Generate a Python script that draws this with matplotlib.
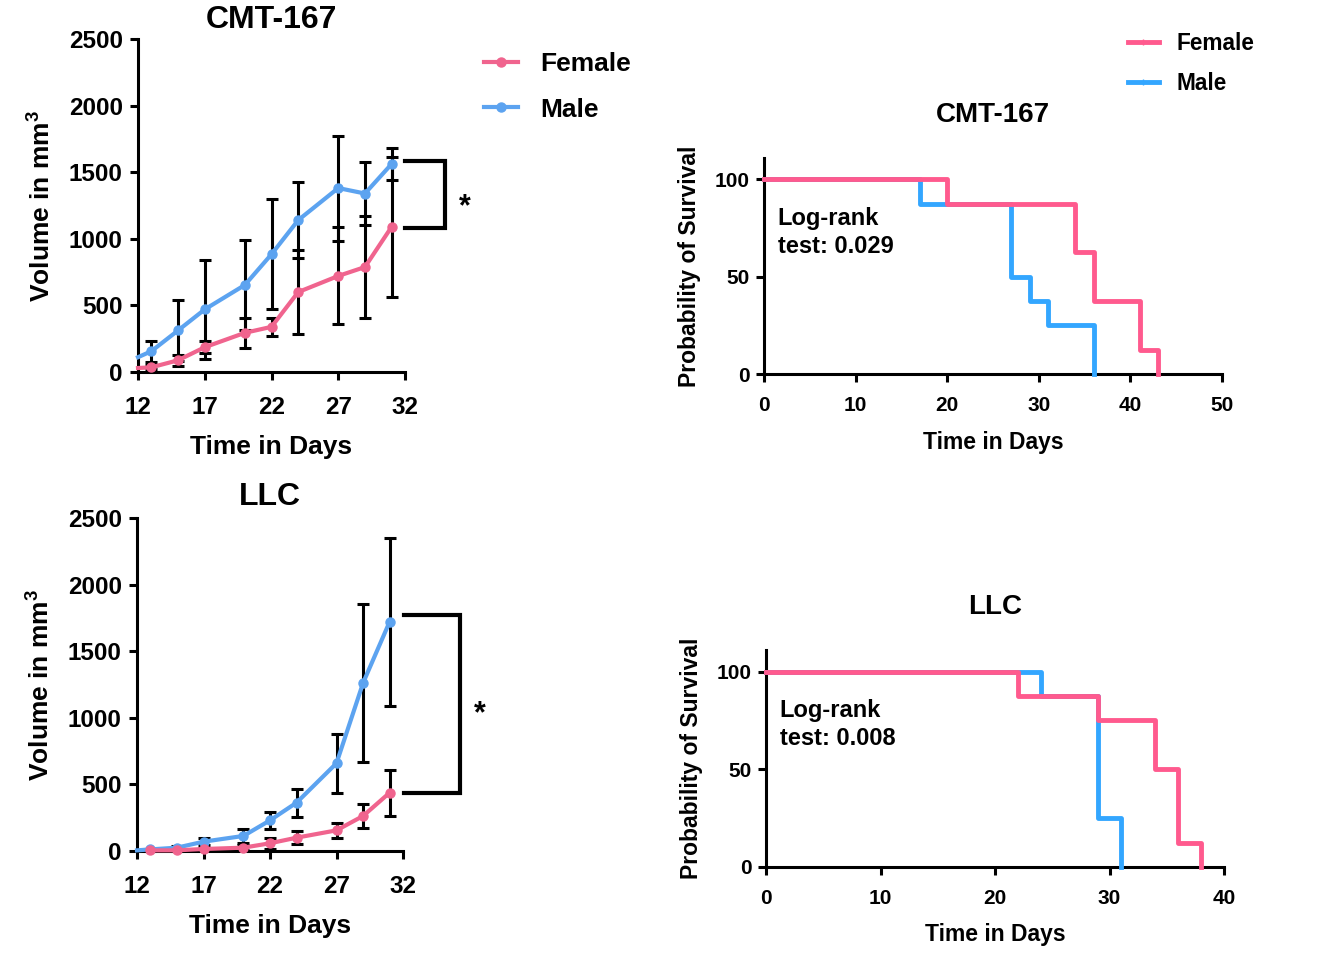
import matplotlib
matplotlib.use('Agg')
import matplotlib.pyplot as plt
import numpy as np
from matplotlib.lines import Line2D

plt.rcParams['font.family'] = ['Liberation Sans', 'DejaVu Sans']
plt.rcParams['font.weight'] = 'bold'
plt.rcParams['axes.labelweight'] = 'bold'
plt.rcParams['axes.titleweight'] = 'bold'
plt.rcParams['mathtext.fontset'] = 'custom'
plt.rcParams['mathtext.bf'] = 'Liberation Sans:bold'
plt.rcParams['mathtext.rm'] = 'Liberation Sans:bold'

nan = np.nan

# tumour volume, CMT-167
cmt_days = [12, 13, 15, 17, 20, 22, 24, 27, 29, 31]
cmt_vol_f = [30, 35, 88, 186, 294, 339, 600, 721, 788, 1090]
cmt_err_f = [nan, 15, 40, 45, 113, 65, 318, 364, 386, 527]
cmt_vol_m = [111, 156, 312, 470, 653, 884, 1140, 1381, 1340, 1562]
cmt_err_m = [nan, 80, 228, 369, 336, 414, 285, 394, 234, 117]

# tumour volume, LLC
llc_days_f = [13, 15, 17, 20, 22, 24, 27, 29, 31]
llc_vol_f = [5, 5, 15, 25, 58, 100, 155, 263, 438]
llc_err_f = [3, 5, 10, 20, 40, 47, 58, 90, 172]
llc_days_m = [12, 13, 15, 17, 20, 22, 24, 27, 29, 31]
llc_vol_m = [5, 12, 25, 70, 113, 230, 363, 659, 1262, 1722]
llc_err_m = [nan, 5, 10, 25, 50, 63, 105, 222, 595, 630]

# survival, CMT-167
cmt_surv_t_f = [0, 20, 34, 36, 41, 43]
cmt_surv_f = [100, 87.5, 62.5, 37.5, 12.5, 0]
cmt_surv_t_m = [0, 17, 27, 29, 31, 36]
cmt_surv_m = [100, 87.5, 50, 37.5, 25, 0]

# survival, LLC
llc_surv_t_f = [0, 22, 29, 34, 36, 38]
llc_surv_f = [100, 87.5, 75, 50, 12.5, 0]
llc_surv_t_m = [0, 24, 29, 31]
llc_surv_m = [100, 87.5, 25, 0]

PINK = '#F0648E'
BLUE = '#5CA3F0'
PINK2 = '#FF5A8E'
BLUE2 = '#33A6FF'

fig = plt.figure(figsize=(13.29, 9.65), dpi=100)
W, H = 1329, 965


def px_axes(x0, x1, y0, y1):
    return fig.add_axes([x0 / W, 1 - y1 / H, (x1 - x0) / W, (y1 - y0) / H])


def style(ax, fs, lw=2.2):
    for s in ['top', 'right']:
        ax.spines[s].set_visible(False)
    for s in ['left', 'bottom']:
        ax.spines[s].set_linewidth(lw)
    ax.tick_params(width=lw, length=6, labelsize=fs)
    for lab in ax.get_xticklabels() + ax.get_yticklabels():
        lab.set_fontweight('bold')


def growth(ax, days_f, vol_f, err_f, days_m, vol_m, err_m, skip_first_f):
    mk_f = list(range(1, len(days_f))) if skip_first_f else None
    ax.errorbar(days_m, vol_m, yerr=err_m, color=BLUE, lw=3, marker='o', ms=6.5,
                markevery=list(range(1, len(days_m))), ecolor='black',
                elinewidth=2.2, capsize=4, capthick=2.2, clip_on=False, zorder=3)
    ax.errorbar(days_f, vol_f, yerr=err_f, color=PINK, lw=3, marker='o', ms=6.5,
                markevery=mk_f, ecolor='black',
                elinewidth=2.2, capsize=4, capthick=2.2, clip_on=False, zorder=3)
    ax.set_xlim(12, 32)
    ax.set_ylim(0, 2500)
    ax.set_xticks([12, 17, 22, 27, 32])
    ax.set_yticks([0, 500, 1000, 1500, 2000, 2500])
    style(ax, 17.5)
    ax.tick_params(axis='x', pad=11)
    ax.tick_params(axis='y', pad=5)
    ax.set_xlabel('Time in Days', fontsize=19, labelpad=12)
    ax.set_ylabel(r'Volume in mm$^{\mathbf{3}}$', fontsize=19, labelpad=10)


def survival(ax, tf, sf, tm, sm, xmax, note, title):
    ax.step(tm, sm, where='post', color=BLUE2, lw=3.5, clip_on=False, zorder=3)
    ax.step(tf, sf, where='post', color=PINK2, lw=3.5, clip_on=False, zorder=4)
    ax.set_xlim(0, xmax)
    ax.set_ylim(0, 111)
    ax.set_xticks(np.arange(0, xmax + 1, 10))
    ax.set_yticks([0, 50, 100])
    style(ax, 15)
    ax.tick_params(axis='x', pad=10)
    ax.tick_params(axis='y', pad=4)
    ax.set_xlabel('Time in Days', fontsize=16.5, labelpad=11)
    ax.set_ylabel('Probability of Survival', fontsize=16.5, labelpad=10)
    ax.text(0.03, 0.775, note, transform=ax.transAxes, fontsize=17, va='top',
            ha='left', linespacing=1.3, fontweight='bold')
    ax.set_title(title, fontsize=20, pad=26)


# top-left
ax1 = px_axes(138, 405, 39, 372)
growth(ax1, cmt_days, cmt_vol_f, cmt_err_f, cmt_days, cmt_vol_m, cmt_err_m, True)
ax1.set_title('CMT-167', fontsize=23, pad=8)
ax1.plot([32, 35, 35, 32], [1585, 1585, 1084, 1084], color='black', lw=3,
         clip_on=False, solid_joinstyle='miter')
ax1.text(36.5, 1240, '*', fontsize=22, ha='center', va='center')

# bottom-left
ax2 = px_axes(137, 403, 518, 851)
growth(ax2, llc_days_f, llc_vol_f, llc_err_f, llc_days_m, llc_vol_m, llc_err_m, False)
ax2.set_title('LLC', fontsize=23, pad=9)
ax2.plot([32.1, 36.3, 36.3, 32.1], [1770, 1770, 438, 438], color='black', lw=3,
         clip_on=False, solid_joinstyle='miter')
ax2.text(37.8, 1025, '*', fontsize=22, ha='center', va='center')

# top-right
ax3 = px_axes(764, 1222, 158, 374)
survival(ax3, cmt_surv_t_f, cmt_surv_f, cmt_surv_t_m, cmt_surv_m, 50,
         'Log-rank\ntest: 0.029', 'CMT-167')

# bottom-right
ax4 = px_axes(766, 1224, 650, 867)
survival(ax4, llc_surv_t_f, llc_surv_f, llc_surv_t_m, llc_surv_m, 40,
         'Log-rank\ntest: 0.008', 'LLC')

# legends
h1 = [Line2D([], [], color=PINK, lw=3, marker='o', ms=6.5),
      Line2D([], [], color=BLUE, lw=3, marker='o', ms=6.5)]
fig.legend(h1, ['Female', 'Male'], loc='upper left',
           bbox_to_anchor=(484 / W, 1 - 52 / H), frameon=False,
           handlelength=1.3, handletextpad=0.85, labelspacing=0.82,
           borderpad=0, borderaxespad=0, prop={'weight': 'bold', 'size': 19})

h2 = [Line2D([], [], color=PINK2, lw=3.5, marker='|', ms=4),
      Line2D([], [], color=BLUE2, lw=3.5, marker='|', ms=4)]
fig.legend(h2, ['Female', 'Male'], loc='upper left',
           bbox_to_anchor=(1128 / W, 1 - 32 / H), frameon=False,
           handlelength=1.35, handletextpad=0.8, labelspacing=0.75,
           borderpad=0, borderaxespad=0, prop={'weight': 'bold', 'size': 16.3})

fig.savefig('out.png', dpi=100)
